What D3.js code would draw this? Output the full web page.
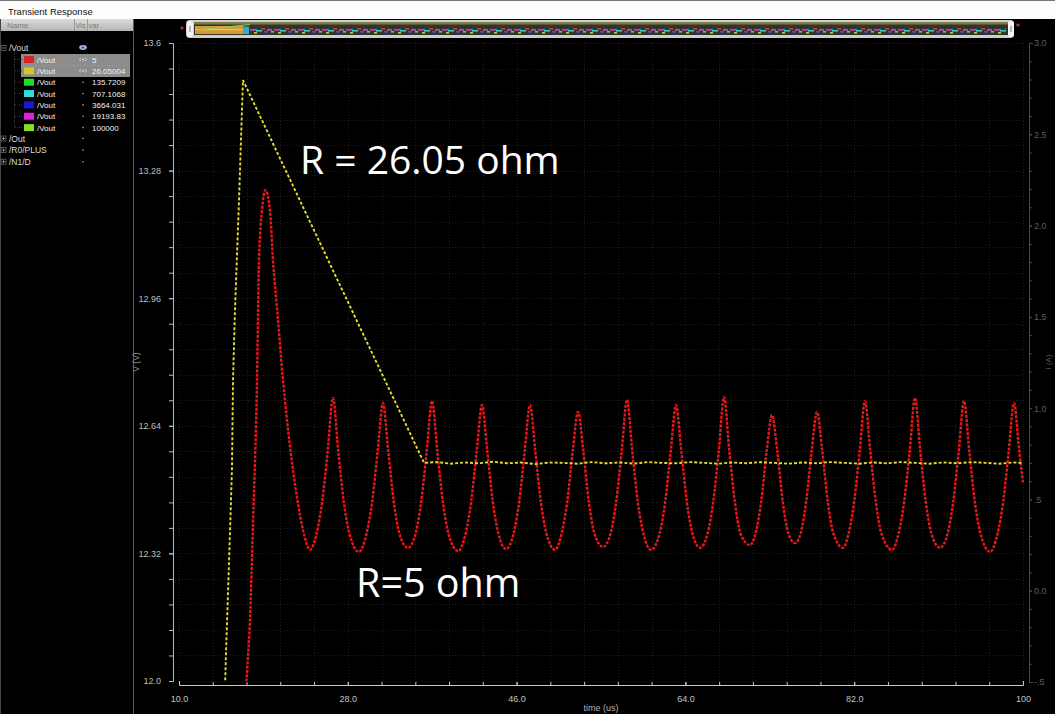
<!DOCTYPE html>
<html>
<head>
<meta charset="utf-8">
<script src="https://cdn.jsdelivr.net/npm/d3@7"></script>
<style>
  html, body { margin: 0; padding: 0; background: #000; overflow: hidden; }
  svg { display: block; font-family: "Liberation Sans", Arial, sans-serif; }
</style>
</head>
<body>
<svg id="chart" width="1055" height="714"></svg>
<script>
// ---- Axis ticks ----
const xMajorTicks = [10, 28, 46, 64, 82, 100];
const xMajorLabels = ["10.0", "28.0", "46.0", "64.0", "82.0", "100"];
const yMajorTicks = [12.0, 12.32, 12.64, 12.96, 13.28, 13.6];
const yMajorLabels = ["12.0", "12.32", "12.64", "12.96", "13.28", "13.6"];
const y2MajorTicks = [-0.5, 0, 0.5, 1.0, 1.5, 2.0, 2.5, 3.0];
const y2MajorLabels = ["-.5", "0.0", ".5", "1.0", "1.5", "2.0", "2.5", "3.0"];

// ---- Sweep list (parametric R values) ----
const sweepNames = ["/Vout", "/Vout", "/Vout", "/Vout", "/Vout", "/Vout", "/Vout"];
const sweepValues = ["5", "26.05004", "135.7209", "707.1068", "3664.031", "19193.83", "100000"];
const sweepColors = ["#d62626", "#d6c42a", "#22dc22", "#30dcdc", "#1818d8", "#e020e0", "#88dc22"];
const otherSignals = ["/Out", "/R0/PLUS", "/N1/D"];

// ---- Traces: time (us), voltage (V) ----
const vout26 = [
  [14.90, 11.977], [15.01, 12.070], [15.23, 12.223], [15.44, 12.374], [15.65, 12.534],
  [15.76, 12.755], [15.97, 12.930], [16.40, 13.206], [16.82, 13.507], [36.13, 12.547],
  [37.5, 12.549], [39, 12.545], [40.5, 12.548], [42, 12.546], [43.5, 12.550],
  [45, 12.546], [46.5, 12.548], [48, 12.544], [49.5, 12.548], [51, 12.547],
  [52.5, 12.545], [54, 12.549], [55.5, 12.546], [57, 12.548], [58.5, 12.545],
  [60, 12.549], [61.5, 12.547], [63, 12.546], [64.5, 12.549], [66, 12.547],
  [67.5, 12.545], [69, 12.548], [70.5, 12.546], [72, 12.549], [73.5, 12.547],
  [75, 12.545], [76.5, 12.548], [78, 12.546], [79.5, 12.549], [81, 12.547],
  [82.5, 12.545], [84, 12.548], [85.5, 12.546], [87, 12.549], [88.5, 12.547],
  [90, 12.545], [91.5, 12.548], [93, 12.546], [94.5, 12.549], [96, 12.547],
  [97.5, 12.545], [99, 12.548], [100, 12.547]
];

const vout5 = [
  [17.14, 11.977], [17.25, 12.020], [17.57, 12.153], [17.89, 12.396], [18.32, 12.755],
  [18.53, 13.056], [18.85, 13.181], [19.22, 13.231], [19.70, 13.181], [20.02, 13.056],
  [20.45, 12.935], [21.09, 12.755], [21.84, 12.587], [22.58, 12.461], [23.22, 12.379],
  [23.97, 12.329],
  [24.67, 12.37], [25.27, 12.45], [25.87, 12.58], [26.42, 12.710], [26.97, 12.58], [27.57, 12.45], [28.17, 12.37],
  [29.19, 12.324],
  [30.00, 12.37], [30.60, 12.45], [31.20, 12.58], [31.75, 12.697], [32.30, 12.58], [32.90, 12.45], [33.50, 12.37],
  [34.42, 12.334],
  [35.23, 12.37], [35.83, 12.45], [36.43, 12.58], [36.98, 12.702], [37.53, 12.58], [38.13, 12.45], [38.73, 12.37],
  [39.75, 12.326],
  [40.56, 12.37], [41.16, 12.45], [41.76, 12.58], [42.31, 12.692], [42.86, 12.58], [43.46, 12.45], [44.06, 12.37],
  [44.87, 12.331],
  [45.68, 12.37], [46.28, 12.45], [46.88, 12.58], [47.43, 12.692], [47.98, 12.58], [48.58, 12.45], [49.18, 12.37],
  [50.09, 12.329],
  [50.80, 12.37], [51.40, 12.45], [52.00, 12.58], [52.55, 12.675], [53.10, 12.58], [53.70, 12.45], [54.30, 12.37],
  [55.21, 12.336],
  [56.02, 12.37], [56.62, 12.45], [57.22, 12.58], [57.77, 12.705], [58.32, 12.58], [58.92, 12.45], [59.52, 12.37],
  [60.33, 12.329],
  [61.25, 12.37], [61.85, 12.45], [62.45, 12.58], [63.00, 12.692], [63.55, 12.58], [64.15, 12.45], [64.75, 12.37],
  [65.56, 12.334],
  [66.37, 12.37], [66.97, 12.45], [67.57, 12.58], [68.12, 12.712], [68.67, 12.58], [69.27, 12.45], [69.87, 12.37],
  [70.89, 12.341],
  [71.48, 12.37], [72.08, 12.45], [72.68, 12.58], [73.23, 12.667], [73.78, 12.58], [74.38, 12.45], [74.98, 12.37],
  [75.69, 12.346],
  [76.28, 12.37], [76.88, 12.45], [77.48, 12.58], [78.03, 12.675], [78.58, 12.58], [79.18, 12.45], [79.78, 12.37],
  [80.81, 12.334],
  [81.40, 12.37], [82.00, 12.45], [82.60, 12.58], [83.15, 12.702], [83.70, 12.58], [84.30, 12.45], [84.90, 12.37],
  [86.03, 12.329],
  [86.73, 12.37], [87.33, 12.45], [87.93, 12.58], [88.48, 12.710], [89.03, 12.58], [89.63, 12.45], [90.23, 12.37],
  [91.15, 12.334],
  [91.96, 12.37], [92.56, 12.45], [93.16, 12.58], [93.71, 12.702], [94.26, 12.58], [94.86, 12.45], [95.46, 12.37],
  [96.48, 12.324],
  [97.29, 12.37], [97.89, 12.45], [98.49, 12.58], [99.04, 12.697], [99.59, 12.58], [100, 12.497]
];

const annotationTexts = ["R = 26.05 ohm", "R=5 ohm"];

// ---- Layout ----
const svg = d3.select("#chart");
const plot = { left: 179, right: 1023, top: 43, bottom: 681 };

const x = d3.scaleLinear().domain([10, 100]).range([plot.left, plot.right]);
const y = d3.scaleLinear().domain([12.0, 13.6]).range([plot.bottom, plot.top]);
const y2 = d3.scaleLinear().domain([-0.5, 3.0]).range([plot.bottom + 1, plot.top]);

const xMinor = d3.range(0, 26).map(i => 10 + i * 3.6);
const yMinor = d3.range(0, 26).map(i => +(12.0 + i * 0.064).toFixed(3));
const y2Minor = d3.range(0, 36).map(i => +(-0.5 + i * 0.1).toFixed(2));

// ---- Window title bar ----
svg.append("rect").attr("x", 0).attr("y", 0).attr("width", 1055).attr("height", 19).attr("fill", "#fdfdfd");
svg.append("line").attr("x1", 0).attr("x2", 1055).attr("y1", 0.5).attr("y2", 0.5).attr("stroke", "#777");
svg.append("text").attr("x", 8).attr("y", 15).attr("font-size", 9.5).attr("fill", "#111")
  .text("Transient Response");

// ---- Signal browser panel ----
const panel = svg.append("g");
const defs = svg.append("defs");
const hdrGrad = defs.append("linearGradient").attr("id", "hdr")
  .attr("x1", 0).attr("x2", 0).attr("y1", 0).attr("y2", 1);
hdrGrad.append("stop").attr("offset", 0).attr("stop-color", "#dcdcdc");
hdrGrad.append("stop").attr("offset", 1).attr("stop-color", "#b4b4b4");
panel.append("rect").attr("x", 0).attr("y", 19).attr("width", 133).attr("height", 12).attr("fill", "url(#hdr)");
panel.append("text").attr("x", 7).attr("y", 28).attr("font-size", 8).attr("fill", "#7a7a7a").text("Name");
panel.append("text").attr("x", 75.5).attr("y", 28).attr("font-size", 7.5).attr("fill", "#7a7a7a").text("Vis");
panel.append("text").attr("x", 88.5).attr("y", 28).attr("font-size", 7.5).attr("fill", "#7a7a7a").text("var");
panel.append("line").attr("x1", 74.5).attr("x2", 74.5).attr("y1", 19).attr("y2", 31).attr("stroke", "#999");
panel.append("line").attr("x1", 87.5).attr("x2", 87.5).attr("y1", 19).attr("y2", 31).attr("stroke", "#999");
panel.append("line").attr("x1", 133.5).attr("x2", 133.5).attr("y1", 19).attr("y2", 714).attr("stroke", "#5a5a5a");
panel.append("line").attr("x1", 0.5).attr("x2", 0.5).attr("y1", 19).attr("y2", 714).attr("stroke", "#444");

function treeBox(g, cx, cy, open) {
  g.append("rect").attr("x", cx - 2.5).attr("y", cy - 2.5).attr("width", 5).attr("height", 5)
    .attr("fill", "none").attr("stroke", "#777").attr("stroke-width", 0.7);
  g.append("line").attr("x1", cx - 1.5).attr("x2", cx + 1.5).attr("y1", cy).attr("y2", cy)
    .attr("stroke", "#aaa").attr("stroke-width", 0.7);
  if (!open) g.append("line").attr("x1", cx).attr("x2", cx).attr("y1", cy - 1.5).attr("y2", cy + 1.5)
    .attr("stroke", "#aaa").attr("stroke-width", 0.7);
}

// parent node
treeBox(panel, 3.5, 48, true);
panel.append("text").attr("x", 9).attr("y", 51).attr("font-size", 8.5).attr("fill", "#ddd").text("/Vout");
panel.append("ellipse").attr("cx", 83).attr("cy", 47.5).attr("rx", 3.8).attr("ry", 2.4).attr("fill", "#9fb4d8");
panel.append("circle").attr("cx", 83).attr("cy", 47.5).attr("r", 1.1).attr("fill", "#2b3f6a");

// selection highlight
panel.append("rect").attr("x", 21).attr("y", 54).attr("width", 109).attr("height", 23).attr("fill", "#8c8c8c");
panel.append("line").attr("x1", 21).attr("x2", 130).attr("y1", 65.5).attr("y2", 65.5).attr("stroke", "#9a9a9a").attr("stroke-width", 0.5);

// tree connector
panel.append("line").attr("x1", 14.5).attr("x2", 14.5).attr("y1", 52).attr("y2", 127)
  .attr("stroke", "#3c3c3c").attr("stroke-dasharray", "1,1");

const rowY = sweepValues.map((_, i) => 59.5 + i * 11.35);
sweepValues.forEach((val, i) => {
  const cy = rowY[i];
  panel.append("line").attr("x1", 15).attr("x2", 22).attr("y1", cy).attr("y2", cy)
    .attr("stroke", "#3c3c3c").attr("stroke-dasharray", "1,1");
  panel.append("rect").attr("x", 24).attr("y", cy - 3.5).attr("width", 10).attr("height", 7)
    .attr("fill", sweepColors[i]);
  panel.append("text").attr("x", 37).attr("y", cy + 3).attr("font-size", 8)
    .attr("fill", "#f2f2f2").text(sweepNames[i]);
  if (i < 2) {
    panel.append("path").attr("d", `M81,${cy - 1.5} L79.2,${cy} L81,${cy + 1.5} M85,${cy - 1.5} L86.8,${cy} L85,${cy + 1.5}`)
      .attr("fill", "none").attr("stroke", "#cfe0ff").attr("stroke-width", 0.8);
    panel.append("circle").attr("cx", 83).attr("cy", cy).attr("r", 0.9).attr("fill", "#cfe0ff");
  } else {
    panel.append("circle").attr("cx", 83).attr("cy", cy).attr("r", 0.8).attr("fill", "#aaa");
  }
  panel.append("text").attr("x", 92).attr("y", cy + 3).attr("font-size", 8)
    .attr("fill", "#f2f2f2").text(val);
});

otherSignals.forEach((name, i) => {
  const cy = 138.5 + i * 11.6;
  treeBox(panel, 3.5, cy, false);
  panel.append("text").attr("x", 9).attr("y", cy + 3).attr("font-size", 8.5).attr("fill", "#ddd").text(name);
  panel.append("circle").attr("cx", 83).attr("cy", cy).attr("r", 0.8).attr("fill", "#aaa");
});

// ---- Overview strip ----
const pat = defs.append("pattern").attr("id", "wavestrip").attr("patternUnits", "userSpaceOnUse")
  .attr("x", 250).attr("y", 28).attr("width", 24).attr("height", 6);
[["#d040c0", 0, 1, 7], ["#30c8d8", 6, 2, 6], ["#e03040", 11, 0, 4], ["#4050e0", 14, 3, 4],
 ["#c050d0", 17, 1, 5], ["#40d0d0", 21, 3, 3], ["#a0d040", 4, 4, 3]].forEach(([c, px, py, w]) => {
  pat.append("rect").attr("x", px).attr("y", py).attr("width", w).attr("height", 1.6).attr("fill", c);
});
const ov = svg.append("g");
ov.append("circle").attr("cx", 182).attr("cy", 28).attr("r", 1.6).attr("fill", "#c03030");
ov.append("circle").attr("cx", 1018).attr("cy", 25).attr("r", 1.6).attr("fill", "#c03030");
ov.append("rect").attr("x", 186).attr("y", 20).attr("width", 828).attr("height", 18).attr("rx", 4)
  .attr("fill", "#cfcfcf");
ov.append("rect").attr("x", 194).attr("y", 22).attr("width", 814).attr("height", 13).attr("fill", "#34342a");
ov.append("rect").attr("x", 194).attr("y", 22).attr("width", 814).attr("height", 2.5).attr("fill", "#7d7d4c");
ov.append("rect").attr("x", 195).attr("y", 26).attr("width", 48).attr("height", 8).attr("fill", "#d49a3a");
ov.append("rect").attr("x", 195).attr("y", 29).attr("width", 48).attr("height", 1.2).attr("fill", "#f0c060");
ov.append("line").attr("x1", 196).attr("y1", 30).attr("x2", 250).attr("y2", 24.5)
  .attr("stroke", "#86d84a").attr("stroke-width", 1);
ov.append("rect").attr("x", 243).attr("y", 26.5).attr("width", 6).attr("height", 7.5).attr("fill", "#2ab0c8");
ov.append("rect").attr("x", 250).attr("y", 28).attr("width", 756).attr("height", 6).attr("fill", "url(#wavestrip)");
ov.append("rect").attr("x", 187).attr("y", 21).attr("width", 6).attr("height", 16).attr("rx", 2.5).attr("fill", "#f4f4f4");
ov.append("rect").attr("x", 189.5).attr("y", 26).attr("width", 1).attr("height", 6).attr("fill", "#777");
ov.append("rect").attr("x", 1008).attr("y", 21).attr("width", 6).attr("height", 16).attr("rx", 2.5).attr("fill", "#f4f4f4");
ov.append("rect").attr("x", 1010.5).attr("y", 26).attr("width", 1).attr("height", 6).attr("fill", "#777");

// ---- Grid ----
const grid = svg.append("g").attr("stroke", "#1e1e1e").attr("stroke-width", 1).attr("stroke-dasharray", "1,2");
grid.selectAll("line.gx").data(xMinor).join("line")
  .attr("x1", d => Math.round(x(d)) + 0.5).attr("x2", d => Math.round(x(d)) + 0.5)
  .attr("y1", plot.top).attr("y2", plot.bottom);
grid.selectAll("line.gy").data(yMinor).join("line")
  .attr("y1", d => Math.round(y(d)) + 0.5).attr("y2", d => Math.round(y(d)) + 0.5)
  .attr("x1", plot.left).attr("x2", plot.right);

// ---- Axes ----
function styleAxis(g, stroke, textFill) {
  g.selectAll("path.domain").attr("stroke", stroke);
  g.selectAll(".tick line").attr("stroke", stroke);
  g.selectAll(".tick text").attr("fill", textFill).attr("font-family", "Liberation Sans, Arial, sans-serif");
}

// left
const yAxisMinor = svg.append("g").attr("transform", "translate(173,0)")
  .call(d3.axisLeft(y).tickValues(yMinor).tickSize(4).tickSizeOuter(4).tickFormat(""));
styleAxis(yAxisMinor, "#b8b8b8", "#bbb");
const yAxisMajor = svg.append("g").attr("transform", "translate(173,0)")
  .call(d3.axisLeft(y).tickValues(yMajorTicks).tickSize(4).tickSizeOuter(4).tickPadding(8)
    .tickFormat((d, i) => yMajorLabels[i]));
yAxisMajor.select("path.domain").remove();
styleAxis(yAxisMajor, "#b8b8b8", "#bdbdbd");
yAxisMajor.selectAll(".tick text").attr("font-size", 9);

// bottom
const xAxisMinor = svg.append("g").attr("transform", "translate(0,685)")
  .call(d3.axisBottom(x).tickValues(xMinor).tickSize(-3).tickSizeOuter(-4).tickFormat(""));
styleAxis(xAxisMinor, "#c8c8c8", "#ccc");
const xAxisMajor = svg.append("g").attr("transform", "translate(0,685)")
  .call(d3.axisBottom(x).tickValues(xMajorTicks).tickSize(-3).tickPadding(11)
    .tickFormat((d, i) => xMajorLabels[i]));
xAxisMajor.select("path.domain").remove();
styleAxis(xAxisMajor, "#c8c8c8", "#c4c4c4");
xAxisMajor.selectAll(".tick text").attr("font-size", 9);

// right
const y2AxisMinor = svg.append("g").attr("transform", "translate(1029,0)")
  .call(d3.axisRight(y2).tickValues(y2Minor).tickSize(3).tickSizeOuter(4).tickFormat(""));
styleAxis(y2AxisMinor, "#4a4a4a", "#555");
const y2AxisMajor = svg.append("g").attr("transform", "translate(1029,0)")
  .call(d3.axisRight(y2).tickValues(y2MajorTicks).tickSize(3).tickPadding(2)
    .tickFormat((d, i) => y2MajorLabels[i]));
y2AxisMajor.select("path.domain").remove();
styleAxis(y2AxisMajor, "#4a4a4a", "#5e5e5e");
y2AxisMajor.selectAll(".tick text").attr("font-size", 9);

// axis titles
svg.append("text").attr("transform", "translate(139,362) rotate(-90)").attr("text-anchor", "middle")
  .attr("font-size", 8.5).attr("fill", "#9a9a9a").text("V (V)");
svg.append("text").attr("transform", "translate(1051,362) rotate(-90)").attr("text-anchor", "middle")
  .attr("font-size", 8).attr("fill", "#555").text("I (A)");
svg.append("text").attr("x", 601).attr("y", 711).attr("text-anchor", "middle")
  .attr("font-size", 9).attr("fill", "#b0b0b0").text("time (us)");

// ---- Traces ----
defs.append("clipPath").attr("id", "plotclip").append("rect")
  .attr("x", plot.left).attr("y", plot.top).attr("width", plot.right - plot.left + 1)
  .attr("height", plot.bottom - plot.top);

const traces = svg.append("g").attr("clip-path", "url(#plotclip)");
const line5 = d3.line().x(d => x(d[0])).y(d => y(d[1])).curve(d3.curveMonotoneX);
const line26 = d3.line().x(d => x(d[0])).y(d => y(d[1])).curve(d3.curveLinear);

traces.append("path").datum(vout5).attr("d", line5)
  .attr("fill", "none").attr("stroke", "#e81818").attr("stroke-width", 2.4)
  .attr("stroke-dasharray", "3,1.3");
traces.append("path").datum(vout26).attr("d", line26)
  .attr("fill", "none").attr("stroke", "#e2dc34").attr("stroke-width", 1.9)
  .attr("stroke-dasharray", "3,2");

// ---- Annotations ----
svg.append("text").attr("x", 300).attr("y", 174).attr("font-family", "Open Sans, sans-serif")
  .attr("font-size", 39).attr("fill", "#ffffff").text(annotationTexts[0]);
svg.append("text").attr("x", 356).attr("y", 597).attr("font-family", "Open Sans, sans-serif")
  .attr("font-size", 39.5).attr("fill", "#ffffff").text(annotationTexts[1]);
</script>
</body>
</html>
